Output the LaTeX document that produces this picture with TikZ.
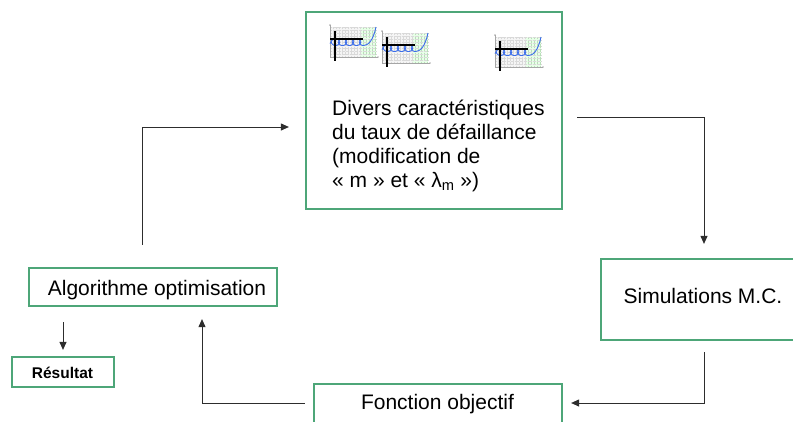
\documentclass[tikz,border=0pt]{standalone}
\usepackage{fontspec}
\setmainfont{Liberation Sans}
\usetikzlibrary{arrows.meta}
\definecolor{boxgreen}{RGB}{77,166,120}
\definecolor{lineC}{RGB}{45,45,45}
\definecolor{curveblue}{RGB}{60,110,235}
\newcommand{\failchart}[1]{%
\begin{scope}[shift={#1}]
  \fill[gray!8] (0,0) rectangle (30,30);
  \fill[green!9] (30,0) rectangle (46,30);
  \foreach \u in {0,3,...,30} {\draw[gray!30,line width=0.3pt,densely dotted] (\u,0) -- (\u,30);}
  \foreach \u in {33,36,...,45} {\draw[green!40!gray!40,line width=0.3pt,densely dotted] (\u,0) -- (\u,30);}
  \foreach \v in {0,3,...,30} {\draw[gray!30,line width=0.3pt,densely dotted] (0,\v) -- (46,\v);}
  \draw[gray!70,line width=0.4pt,-{Triangle[length=1.5pt,width=1.5pt]}] (0,30) -- (49,30);
  \draw[gray!70,line width=0.4pt,-{Triangle[length=1.5pt,width=1.5pt]}] (0,30) -- (0,-3);
  \draw[curveblue,line width=0.9pt] (0,16.5) -- plot[domain=0:28.27,samples=160,variable=\t] ({2+1.114*\t-2.2*sin(\t r)},{16-2.5*cos(\t r)}) .. controls (38,18.5) and (43,14) .. (46,0);
  \draw[black,line width=1.4pt] (5,4) -- (5,34);
  \draw[black,line width=1.4pt] (0,12) -- (33,12);
\end{scope}}
\begin{document}
\begin{tikzpicture}[x=1pt,y=-1pt,
  box/.style={draw=boxgreen,line width=2.2pt,inner sep=0pt,rectangle},
  conn/.style={draw=lineC,line width=1pt,-{Triangle[length=8pt,width=7pt]}},
  lbl/.style={inner sep=0pt,anchor=base,font=\fontsize{21}{24}\selectfont}]
\useasboundingbox (0,0) rectangle (793,421);
\begin{scope}
\clip (0,0) rectangle (793,421);
% boxes
\node[box,minimum width=256pt,minimum height=197pt] (top) at (434,110.5) {};
\node[box,minimum width=204pt,minimum height=81pt] (sim) at (703,299.5) {};
\node[box,minimum width=248pt,minimum height=40pt] (fo) at (438,404) {};
\node[box,minimum width=248pt,minimum height=38pt] (algo) at (153,287) {};
\node[box,minimum width=102pt,minimum height=30pt] (res) at (63,372) {};
% charts
\failchart{(330,27)}
\failchart{(382,33)}
\failchart{(495,37)}
% texts
\node[lbl,anchor=base west,align=left] (toptxt) at (332,187) {Divers caractéristiques\\du taux de défaillance\\(modification de\\« m » et « λ\textsubscript{m} »)};
\node[lbl] (simtxt) at (703,303) {Simulations M.C.};
\node[lbl] (fotxt) at (437.5,409) {Fonction objectif};
\node[lbl] (algotxt) at (157,295) {Algorithme optimisation};
\node[lbl,font=\fontsize{15.5}{18}\selectfont\bfseries] (restxt) at (62.5,378) {Résultat};
% connector coordinates
\coordinate (c1) at (142,127);
\coordinate (c2) at (704,117);
\coordinate (c3) at (704,403);
\coordinate (c4) at (202,403);
% connectors
\draw[conn,shorten <=22pt,shorten >=16pt] (algo.north -| c1) |- (top.west |- c1);
\draw[conn,shorten <=14pt,shorten >=14pt] (top.east |- c2) -| (sim.north -| c2);
\draw[conn,shorten <=11pt,shorten >=8pt] (sim.south -| c3) |- (fo.east |- c3);
\draw[conn,shorten <=8pt,shorten >=12pt] (fo.west |- c4) -| (algo.south -| c4);
\draw[conn,shorten <=15pt,shorten >=6pt] (algo.south -| res.north) -- (res.north);
\end{scope}
\end{tikzpicture}
\end{document}
